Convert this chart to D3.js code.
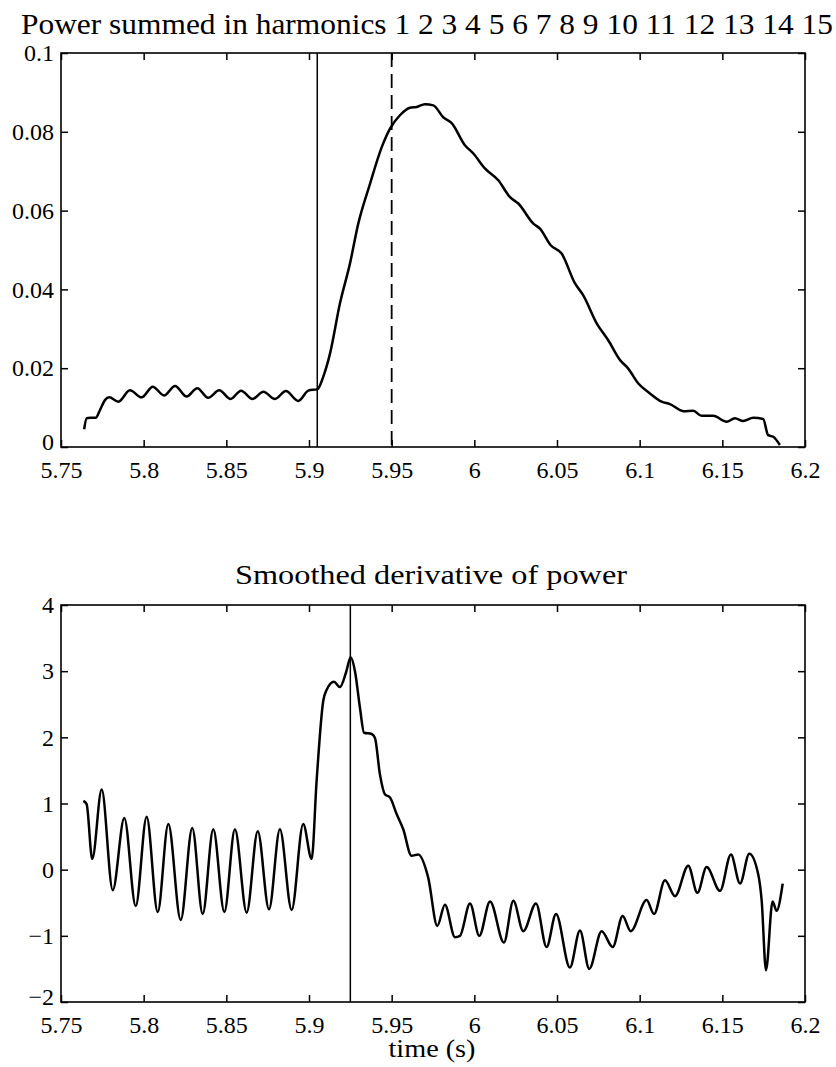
<!DOCTYPE html>
<html>
<head>
<meta charset="utf-8">
<script src="https://cdn.jsdelivr.net/npm/d3@7"></script>
<style>
  body { margin: 0; background: #fff; }
  svg text { font-family: 'Liberation Serif', serif; fill: #000; }
</style>
</head>
<body>
<div id="svg"></div>
<script>
// top panel: power summed in harmonics
var powerT = [5.764, 5.7655, 5.7675, 5.771, 5.7736, 5.7766, 5.7792, 5.7847, 5.7917, 5.7988, 5.8055, 5.8123, 5.819, 5.826, 5.8324, 5.839, 5.8457, 5.8526, 5.8589, 5.8659, 5.8724, 5.8794, 5.886, 5.8935, 5.8996, 5.9052,
  5.9086, 5.9127, 5.9187, 5.9248, 5.9298, 5.9369, 5.944, 5.949, 5.955, 5.9611, 5.9651, 5.9701, 5.9752, 5.9812, 5.9863, 5.9943, 5.9994, 6.0064, 6.0145, 6.0216, 6.0266, 6.0357, 6.0397, 6.0462, 6.0528,
  6.0609, 6.0659, 6.074, 6.081, 6.0881, 6.0931, 6.0992, 6.1062, 6.1133, 6.1183, 6.1264, 6.1324, 6.1375, 6.1445, 6.1526, 6.1576, 6.1626, 6.1687, 6.1747, 6.1777, 6.1808, 6.1848];
var powerV = [0.0045, 0.0073, 0.0074, 0.0074, 0.0094, 0.0119, 0.0126, 0.0115, 0.0144, 0.0126, 0.0153, 0.0131, 0.0155, 0.0128, 0.0149, 0.0125, 0.0144, 0.0122, 0.0143, 0.0122, 0.014, 0.0122, 0.0142, 0.0117, 0.0143, 0.0147,
  0.0178, 0.0237, 0.0364, 0.0466, 0.0567, 0.0668, 0.0761, 0.0808, 0.0842, 0.0861, 0.0863, 0.087, 0.0867, 0.0837, 0.0822, 0.0766, 0.0745, 0.0707, 0.0677, 0.0634, 0.0618, 0.0567, 0.0554, 0.0512, 0.0491,
  0.0415, 0.0385, 0.0314, 0.0271, 0.0221, 0.0199, 0.0161, 0.0136, 0.0115, 0.0109, 0.0091, 0.0092, 0.0079, 0.0079, 0.0064, 0.0073, 0.0066, 0.0074, 0.0071, 0.003, 0.0026, 0.0005];

// bottom panel: smoothed derivative
var derivT = [5.7635, 5.7655, 5.7689, 5.7746, 5.7813, 5.7883, 5.7952, 5.8018, 5.8085, 5.8149, 5.8224, 5.8294, 5.8357, 5.8421, 5.8488, 5.8552, 5.8623, 5.869, 5.8758, 5.8824, 5.8895, 5.8965, 5.9016,
  5.9046, 5.9086, 5.9107, 5.9151, 5.9187, 5.9224, 5.9252, 5.9278, 5.9308, 5.9333, 5.9379, 5.9399, 5.9429, 5.9459, 5.949, 5.953, 5.957, 5.962, 5.9661, 5.9721, 5.9776, 5.9822, 5.9883, 5.9913, 5.9974,
  6.003, 6.0095, 6.0179, 6.0236, 6.0296, 6.0373, 6.0437, 6.0494, 6.0578, 6.0639, 6.0695, 6.077, 6.0837, 6.0897, 6.0946, 6.1042, 6.1087, 6.1153, 6.1214, 6.1294, 6.1349, 6.1405, 6.1486, 6.1552,
  6.1607, 6.1663, 6.1717, 6.1738, 6.1764, 6.1804, 6.1828, 6.1865];
var derivV = [1.04, 0.99, 0.16, 1.21, -0.31, 0.78, -0.55, 0.8, -0.64, 0.69, -0.76, 0.63, -0.67, 0.61, -0.64, 0.61, -0.65, 0.58, -0.6, 0.61, -0.61, 0.69, 0.16,
  1.34, 2.55, 2.72, 2.84, 2.76, 2.98, 3.21, 3.0, 2.45, 2.07, 2.05, 1.99, 1.44, 1.14, 1.09, 0.84, 0.61, 0.21, 0.23, -0.12, -0.85, -0.53, -1.02, -1.0, -0.51,
  -1.0, -0.48, -1.1, -0.47, -0.93, -0.51, -1.17, -0.67, -1.48, -0.92, -1.5, -0.93, -1.17, -0.7, -0.93, -0.46, -0.67, -0.16, -0.4, 0.06, -0.35, 0.04, -0.32, 0.23,
  -0.21, 0.24, -0.07, -0.47, -1.52, -0.48, -0.62, -0.21];

var xTicks = [5.75, 5.8, 5.85, 5.9, 5.95, 6, 6.05, 6.1, 6.15, 6.2];
var powerTicks = [0, 0.02, 0.04, 0.06, 0.08, 0.1];
var derivTicks = [-2, -1, 0, 1, 2, 3, 4];

var onsetLine = 5.905, markLine = 5.95, derivPeakLine = 5.925;

var svg = d3.select('#svg')
          .append('svg')
          .attr('width', 836)
          .attr('height', 1067);

function panel(top, bottom, yDomain, yTicks, t, v){
  var x = d3.scaleLinear().domain([5.75, 6.2]).range([61, 805]);
  var y = d3.scaleLinear().domain(yDomain).range([bottom, top]);
  var g = svg.append('g');

  g.append('g')
    .attr('transform', 'translate(0,' + bottom + ')')
    .call(d3.axisBottom(x).tickValues(xTicks).tickFormat(d3.format('')).tickSize(-7).tickPadding(14));
  g.append('g')
    .attr('transform', 'translate(0,' + top + ')')
    .call(d3.axisTop(x).tickValues(xTicks).tickFormat('').tickSize(-7));
  var yAxis = g.append('g')
    .attr('transform', 'translate(61,0)')
    .call(d3.axisLeft(y).tickValues(yTicks).tickFormat(d3.format('')).tickSize(-7).tickPadding(7));
  g.append('g')
    .attr('transform', 'translate(805,0)')
    .call(d3.axisRight(y).tickValues(yTicks).tickFormat('').tickSize(-7));

  g.selectAll('.domain').remove();
  g.selectAll('.tick line').style('stroke', '#000').style('stroke-width', 1.5);
  g.selectAll('.tick text').style('font-size', '24px').style('font-family', 'Liberation Serif');
  // lowest y label sits a bit higher so it clears the x labels
  yAxis.selectAll('.tick text').filter(function(d){ return d === yDomain[0]; })
    .attr('dy', '0.1em');

  g.append('rect')
    .attr('x', 61).attr('y', top)
    .attr('width', 805 - 61).attr('height', bottom - top)
    .style('fill', 'none').style('stroke', '#000').style('stroke-width', 1.6);

  var line = d3.line()
    .x(function(d, i){ return x(t[i]); })
    .y(function(d){ return y(d); })
    .curve(d3.curveMonotoneX);

  g.append('path')
    .datum(v)
    .attr('d', line)
    .style('fill', 'none')
    .style('stroke', '#000')
    .style('stroke-width', 2.5)
    .style('stroke-linejoin', 'round');

  return {x: x, y: y, g: g};
}

function label(txt, cx, by, size, len){
  svg.append('text')
    .text(txt)
    .attr('x', cx)
    .attr('y', by)
    .attr('text-anchor', 'middle')
    .attr('textLength', len)
    .attr('lengthAdjust', 'spacingAndGlyphs')
    .style('font-size', size + 'px');
}

var p1 = panel(53, 447, [0, 0.1], powerTicks, powerT, powerV);
p1.g.append('line')
  .attr('x1', p1.x(onsetLine)).attr('x2', p1.x(onsetLine))
  .attr('y1', 53).attr('y2', 447)
  .style('stroke', '#000').style('stroke-width', 1.5);
p1.g.append('line')
  .attr('x1', p1.x(markLine)).attr('x2', p1.x(markLine))
  .attr('y1', 53).attr('y2', 447)
  .style('stroke', '#000').style('stroke-width', 1.8)
  .style('stroke-dasharray', '14,7');

var p2 = panel(605, 1002, [-2, 4], derivTicks, derivT, derivV);
p2.g.append('line')
  .attr('x1', p2.x(derivPeakLine)).attr('x2', p2.x(derivPeakLine))
  .attr('y1', 605).attr('y2', 1002)
  .style('stroke', '#000').style('stroke-width', 1.5);

label('Power summed in harmonics 1 2 3 4 5 6 7 8 9 10 11 12 13 14 15', 427, 34, 29, 812);
label('Smoothed derivative of power', 431, 584, 28, 392);
label('time (s)', 432, 1057, 26, 87);
</script>
</body>
</html>
